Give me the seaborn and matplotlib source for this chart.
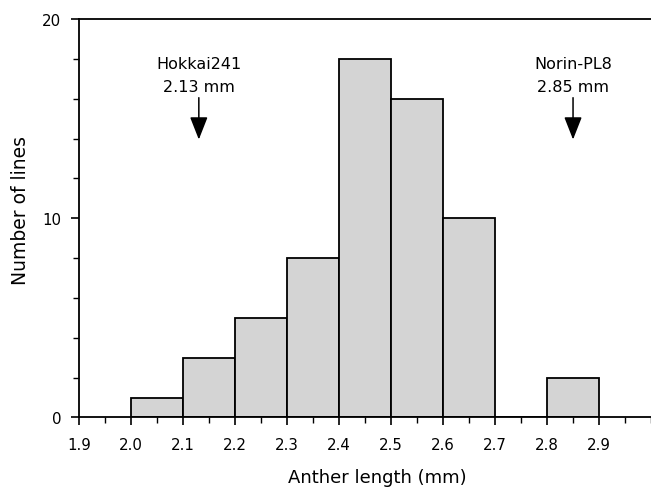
import matplotlib
matplotlib.use("Agg")
import matplotlib.pyplot as plt
import seaborn as sns
import numpy as np
from matplotlib.ticker import MultipleLocator

# Data
bin_edges = [2.0, 2.1, 2.2, 2.3, 2.4, 2.5, 2.6, 2.7, 2.8, 2.9]
bin_centers = [2.05, 2.15, 2.25, 2.35, 2.45, 2.55, 2.65, 2.75, 2.85]
counts = [1, 3, 5, 8, 18, 16, 10, 0, 2]
parent_names = ["Hokkai241", "Norin-PL8"]
parent_values = [2.13, 2.85]
x_ticks = [1.9, 2.0, 2.1, 2.2, 2.3, 2.4, 2.5, 2.6, 2.7, 2.8, 2.9]
y_ticks = [0, 10, 20]

sns.set_theme(style="ticks")
plt.rcParams['font.family'] = ['DejaVu Sans']

fig = plt.figure(figsize=(6.51, 4.89), dpi=100)
ax = fig.add_axes([0.1218, 0.1442, 0.8782, 0.8149])

sns.histplot(x=bin_centers, weights=counts, bins=bin_edges, ax=ax,
             color="#d4d4d4", alpha=1.0, edgecolor="black", linewidth=1.3)

ax.set_xlim(1.9, 3.0)
ax.set_ylim(0, 20)
ax.set_xticks(x_ticks)
ax.set_xticklabels([f"{t:.1f}" for t in x_ticks])
ax.xaxis.set_minor_locator(MultipleLocator(0.05))
ax.set_yticks(y_ticks)
ax.yaxis.set_minor_locator(MultipleLocator(2))

ax.tick_params(axis='both', which='major', length=6, width=1.2, labelsize=10.8,
               color='black', labelcolor='black', direction='out')
ax.tick_params(axis='x', which='major', pad=8)
ax.tick_params(axis='y', which='major', pad=7)
ax.tick_params(axis='both', which='minor', length=4, width=1.0, color='black',
               direction='out')

for s in ['left', 'top', 'bottom']:
    ax.spines[s].set_visible(True)
    ax.spines[s].set_linewidth(1.3)
    ax.spines[s].set_color('black')
ax.spines['right'].set_visible(False)

ax.set_xlabel("Anther length (mm)", fontsize=13, color='black')
ax.set_ylabel("Number of lines", fontsize=13.5, color='black')
ax.xaxis.set_label_coords(0.522, -0.128)
ax.yaxis.set_label_coords(-0.086, 0.523)

for name, val in zip(parent_names, parent_values):
    ax.text(val, 17.75, name, ha='center', va='center', fontsize=11.5, color='black')
    ax.text(val, 16.6, f"{val:.2f} mm", ha='center', va='center', fontsize=11.5, color='black')
    ax.annotate("", xy=(val, 13.95), xytext=(val, 16.05),
                arrowprops=dict(arrowstyle='-|>,head_length=1.4,head_width=0.55',
                                color='black', lw=1.1, mutation_scale=10,
                                shrinkA=0, shrinkB=0))

fig.savefig("out.png", dpi=100)
